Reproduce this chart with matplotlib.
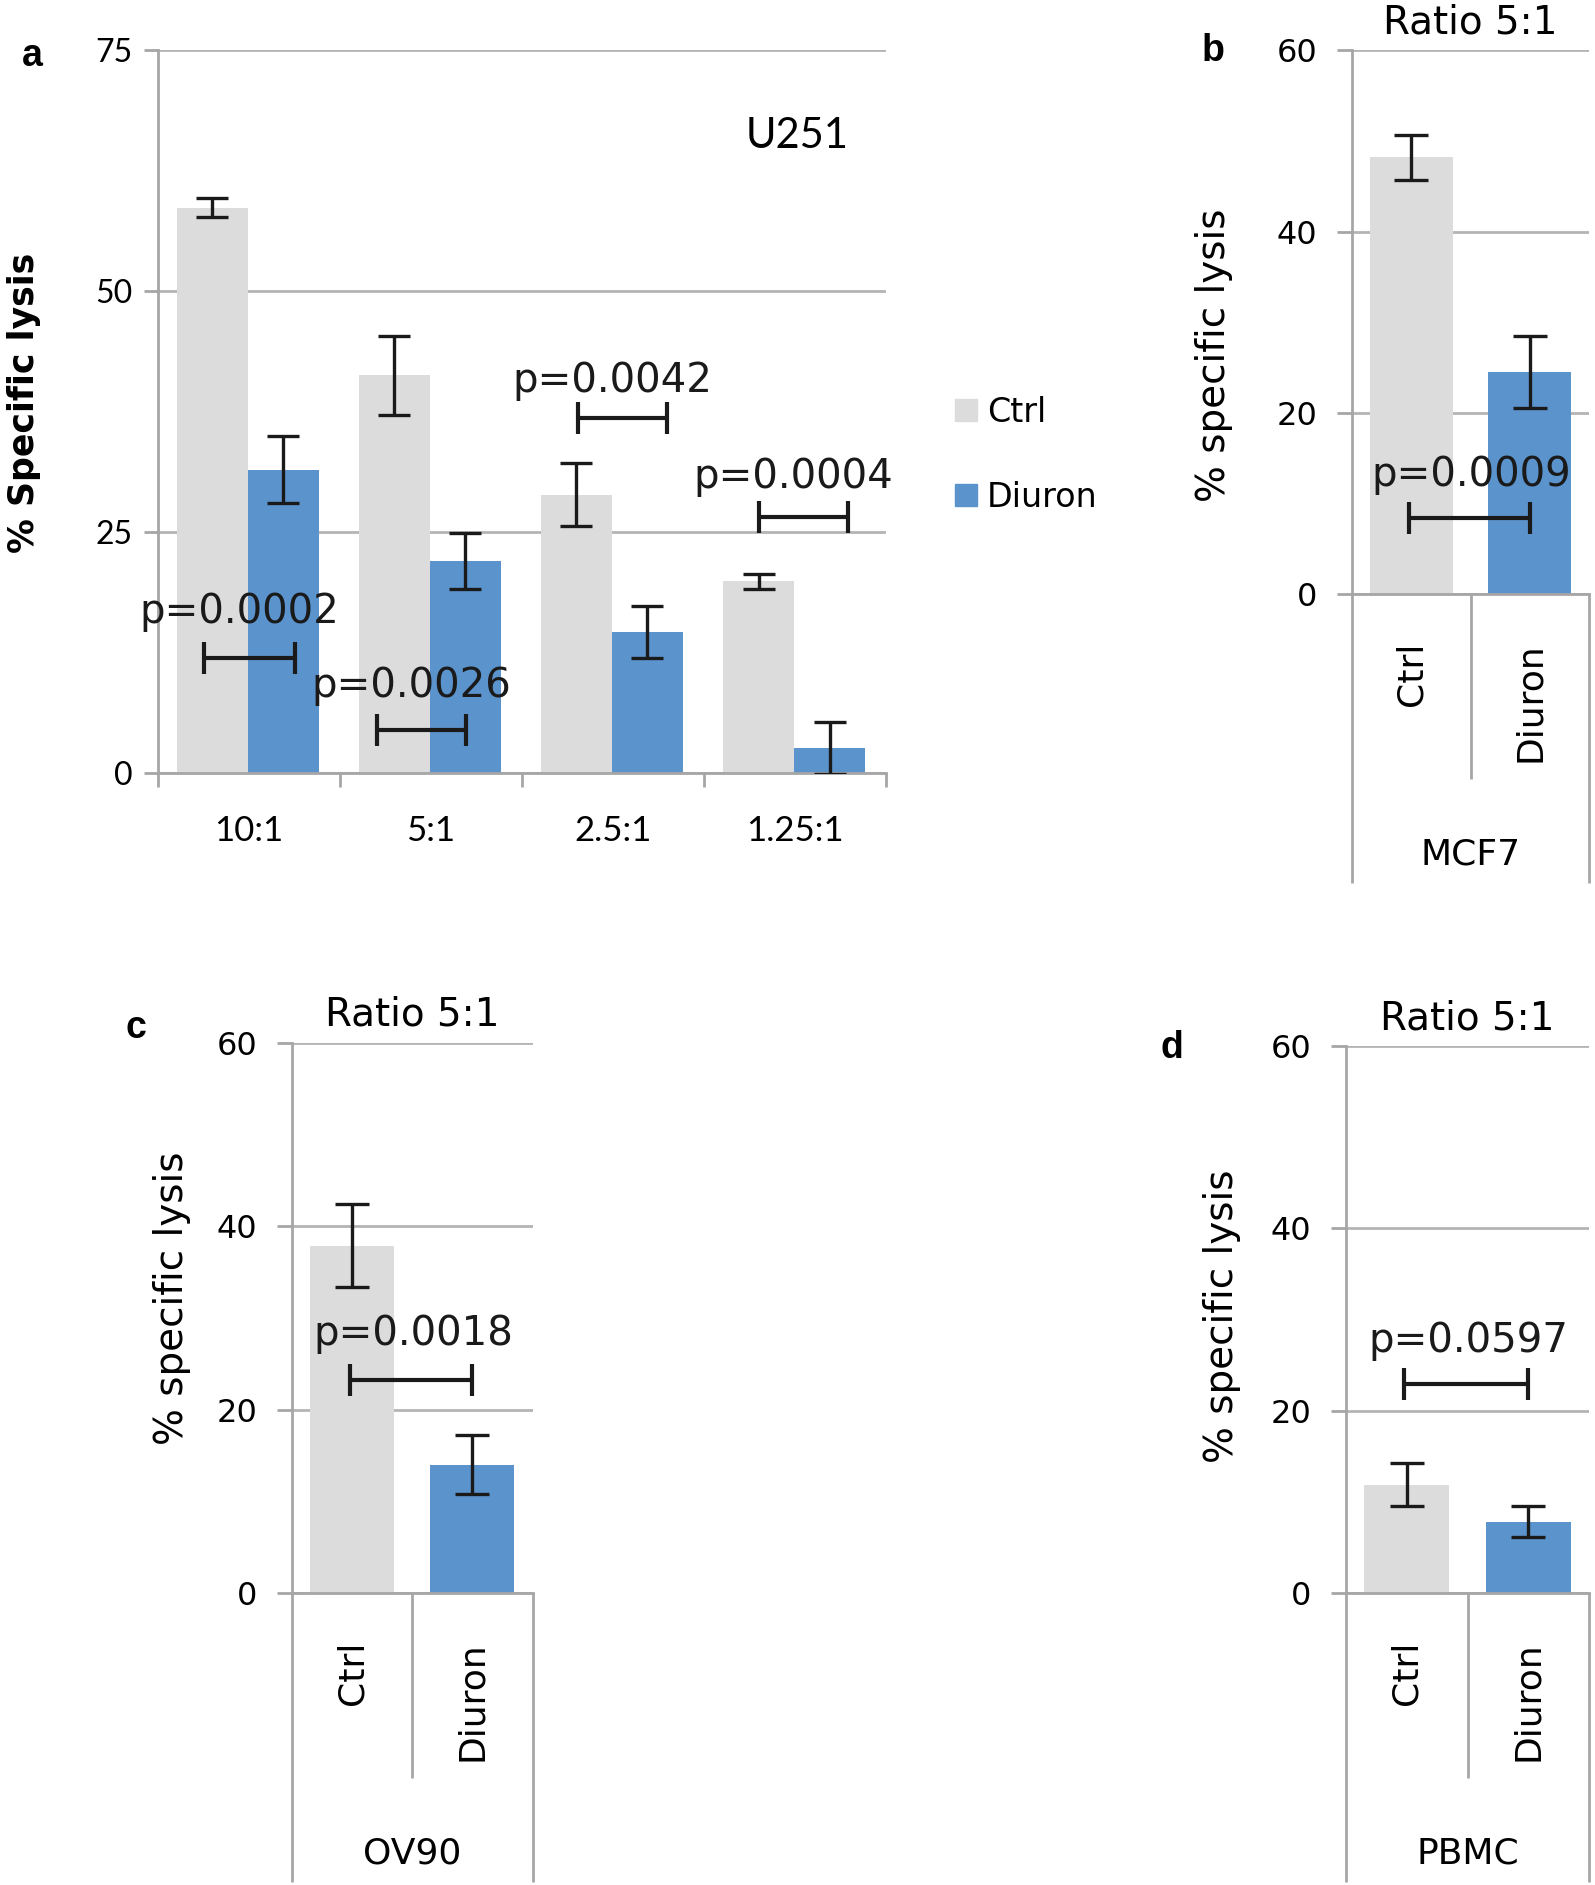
import matplotlib
matplotlib.use('Agg')
import matplotlib.pyplot as plt
import matplotlib.transforms as mtransforms

plt.rcParams['font.family'] = ['DejaVu Sans']

W, H = 1595, 1885

GRAY = '#dcdcdc'
BLUE = '#5b93cd'
GRID = '#b4b4b4'
AXIS = '#a6a6a6'
INK = '#1a1a1a'

# panel a: U251, several effector:target ratios
ratios = ['10:1', '5:1', '2.5:1', '1.25:1']
ctrl_u251 = [58.7, 41.3, 28.9, 19.9]
ctrl_u251_err = [1.0, 4.1, 3.3, 0.8]
diuron_u251 = [31.5, 22.0, 14.6, 2.6]
diuron_u251_err = [3.5, 2.9, 2.7, 2.7]
p_u251 = ['p=0.0002', 'p=0.0026', 'p=0.0042', 'p=0.0004']
p_u251_y = [11.9, 4.5, 36.8, 26.6]
p_u251_x0 = [-0.245, 0.705, 1.81, 2.80]
p_u251_x1 = [0.255, 1.195, 2.30, 3.29]
p_u251_text_y = [16.7, 9.0, 40.7, 30.7]

# panels b, c, d: ratio 5:1 on three cell types
cells = ['MCF7', 'OV90', 'PBMC']
treatments = ['Ctrl', 'Diuron']
ctrl_5to1 = [48.2, 37.9, 11.9]
ctrl_5to1_err = [2.5, 4.5, 2.4]
diuron_5to1 = [24.5, 14.0, 7.8]
diuron_5to1_err = [4.0, 3.2, 1.7]
p_5to1 = ['p=0.0009', 'p=0.0018', 'p=0.0597']
p_5to1_y = [8.4, 23.2, 22.9]
p_5to1_text_y = [13.1, 28.2, 27.6]


def px_rect(left, top, right, bottom):
    return [left / W, 1 - bottom / H, (right - left) / W, (bottom - top) / H]


def bracket(ax, x0, x1, y, text, ty, tx):
    ax.errorbar([(x0 + x1) / 2], [y], xerr=[(x1 - x0) / 2], fmt='none',
                ecolor=INK, elinewidth=3, capsize=11.5, capthick=3, zorder=5)
    ax.text(tx, ty, text, ha='center', va='center', fontsize=29, color=INK, zorder=6)


def style_axes(ax):
    for s in ['top', 'right']:
        ax.spines[s].set_visible(False)
    for s in ['left', 'bottom']:
        ax.spines[s].set_color(AXIS)
        ax.spines[s].set_linewidth(2)
    ax.set_axisbelow(True)
    ax.yaxis.grid(True, color=GRID, lw=2)


fig = plt.figure(figsize=(W / 100, H / 100), dpi=100)

# ---- panel a ----
ax = fig.add_axes(px_rect(157.5, 50.5, 886, 773))
style_axes(ax)
x = list(range(len(ratios)))
ax.bar([i - 0.2 for i in x], ctrl_u251, 0.39, color=GRAY, zorder=2)
ax.bar([i + 0.19 for i in x], diuron_u251, 0.39, color=BLUE, zorder=2)
ax.errorbar([i - 0.2 for i in x], ctrl_u251, yerr=ctrl_u251_err, fmt='none',
            ecolor=INK, elinewidth=2.4, capsize=11.5, capthick=2.4, zorder=4)
ax.errorbar([i + 0.19 for i in x], diuron_u251, yerr=diuron_u251_err, fmt='none',
            ecolor=INK, elinewidth=2.4, capsize=11.5, capthick=2.4, zorder=4)
for i in range(len(ratios)):
    xc = (p_u251_x0[i] + p_u251_x1[i]) / 2
    bracket(ax, p_u251_x0[i], p_u251_x1[i], p_u251_y[i], p_u251[i], p_u251_text_y[i], xc - 0.055)
ax.set_xlim(-0.5, 3.5)
ax.set_ylim(0, 75)
ax.set_yticks([0, 25, 50, 75])
ax.set_xticks(x)
ax.set_xticklabels(ratios, family='Lato', fontsize=25)
ax.set_xticks([-0.5, 0.5, 1.5, 2.5, 3.5], minor=True)
ax.tick_params(axis='x', which='major', length=0, pad=30)
ax.tick_params(axis='x', which='minor', length=10, width=2, color=AXIS, direction='out')
ax.tick_params(axis='y', length=10, width=2, color=AXIS, pad=8)
for lab in ax.get_yticklabels():
    lab.set_family('Lato')
    lab.set_fontsize(23)
ax.text(3.01, 66.1, 'U251', ha='center', va='center', family='Lato', fontsize=30)
handles = [plt.Rectangle((0, 0), 1, 1, color=GRAY), plt.Rectangle((0, 0), 1, 1, color=BLUE)]
ax.legend(handles, ['Ctrl', 'Diuron'], loc='upper left',
          bbox_to_anchor=((955 - 157.5) / 728.5, (773 - 396) / 722.5),
          frameon=False, borderpad=0, borderaxespad=0, handlelength=0.65,
          handleheight=0.65, handletextpad=0.3, labelspacing=1.55,
          prop={'size': 24})
fig.text(24 / W, 1 - 403 / H, '% Specific lysis', rotation=90, ha='center', va='center',
         fontweight='bold', fontsize=25)
fig.text(22 / W, 1 - 66 / H, 'a', family='Liberation Sans', fontweight='bold', fontsize=27)

# ---- panels b, c, d ----
rects = [(1352, 50.5, 1589, 594), (292, 1043, 532.5, 1593), (1346, 1046, 1589, 1593)]
labels = ['b', 'c', 'd']
label_pos = [(1202, 61), (125, 1038), (1160, 1058)]
ylab_pos = [(1214, 355), (172, 1298), (1222, 1316)]

for k in range(3):
    l, t, r, b = rects[k]
    hpx = b - t
    ax = fig.add_axes(px_rect(l, t, r, b))
    style_axes(ax)
    ax.bar([0], [ctrl_5to1[k]], 0.7, color=GRAY, zorder=2)
    ax.bar([1], [diuron_5to1[k]], 0.7, color=BLUE, zorder=2)
    ax.errorbar([0, 1], [ctrl_5to1[k], diuron_5to1[k]],
                yerr=[ctrl_5to1_err[k], diuron_5to1_err[k]], fmt='none',
                ecolor=INK, elinewidth=2.4, capsize=12, capthick=2.4, zorder=4)
    bracket(ax, -0.02, 1.0, p_5to1_y[k], p_5to1[k], p_5to1_text_y[k], 0.51)
    ax.set_xlim(-0.5, 1.5)
    ax.set_ylim(0, 60)
    ax.set_yticks([0, 20, 40, 60])
    ax.tick_params(axis='y', length=11, width=2, color=AXIS, pad=14, labelsize=23)
    ax.set_xticks([])
    trans = mtransforms.blended_transform_factory(ax.transData, ax.transAxes)
    for xs, depth in [(-0.5, 289), (0.5, 185), (1.5, 289)]:
        ax.plot([xs, xs], [0, -depth / hpx], transform=trans, color=AXIS, lw=2,
                clip_on=False, solid_capstyle='butt')
    for i, name in enumerate(treatments):
        ax.text(i, -48 / hpx, name, rotation=90, ha='center', va='top',
                transform=trans, fontsize=26)
    ax.text(0.5, -260 / hpx, cells[k], ha='center', va='center',
            transform=ax.transAxes, fontsize=26)
    ax.text(0.5, 1 + 28 / hpx, 'Ratio 5:1', ha='center', va='center',
            transform=ax.transAxes, fontsize=28)
    fig.text(ylab_pos[k][0] / W, 1 - ylab_pos[k][1] / H, '% specific lysis', rotation=90,
             ha='center', va='center', fontsize=28)
    fig.text(label_pos[k][0] / W, 1 - label_pos[k][1] / H, labels[k],
             family='Liberation Sans', fontweight='bold', fontsize=27)

fig.savefig('out.png', dpi=100)
